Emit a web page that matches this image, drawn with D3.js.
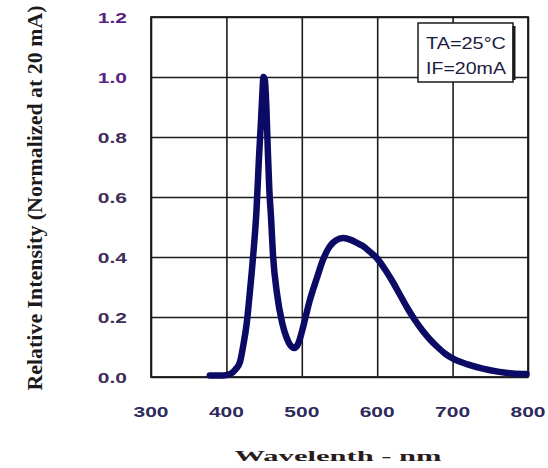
<!DOCTYPE html>
<html><head><meta charset="utf-8">
<script src="https://cdn.jsdelivr.net/npm/d3@7"></script>
<style>body{margin:0;background:#fff}svg{display:block}</style>
</head><body><svg id="c" width="548" height="468"></svg>
<script>
const wavelength = [378,395,405,412,418,422,427,431,435,440,443,446,448,449,451,453,455,457,459,462,467,474,480,485,490,495,500,505,510,520,528,537,545,555,565,573,580,590,600,610,620,630,640,650,660,670,680,690,700,720,740,760,780,798];
const intensity  = [0.005,0.005,0.01,0.025,0.05,0.10,0.18,0.28,0.39,0.56,0.72,0.86,0.96,1.0,0.99,0.90,0.75,0.62,0.54,0.40,0.28,0.18,0.13,0.105,0.097,0.11,0.15,0.20,0.25,0.33,0.39,0.435,0.455,0.463,0.457,0.447,0.438,0.418,0.395,0.36,0.32,0.275,0.23,0.19,0.155,0.125,0.10,0.078,0.062,0.042,0.028,0.018,0.012,0.01];
const xTickValues = [300,400,500,600,700,800];
const xTickLabels = ["300","400","500","600","700","800"];
const yTickValues = [0,0.2,0.4,0.6,0.8,1.0,1.2];
const yTickLabels = ["0.0","0.2","0.4","0.6","0.8","1.0","1.2"];
const legendLines = ["TA=25°C","IF=20mA"];
const xTitle = "Wavelenth - nm";
const yTitle = "Relative Intensity (Normalized at 20 mA)";

const svg = d3.select("#c");
svg.append("rect").attr("width",548).attr("height",468).attr("fill","#fff");
const L=151,R=528,T=17,B=377;
const x = d3.scaleLinear().domain([300,800]).range([L,R]);
const y = d3.scaleLinear().domain([0,1.2]).range([B,T]);
const gridColor = "#1c1c1c";

svg.append("g").attr("transform",`translate(0,${B})`)
  .call(d3.axisBottom(x).tickValues(xTickValues).tickSize(-(B-T)).tickFormat(""))
  .call(g=>{g.select(".domain").remove(); g.selectAll("line").attr("stroke",gridColor).attr("stroke-width",1.6);});
svg.append("g").attr("transform",`translate(${L},0)`)
  .call(d3.axisLeft(y).tickValues(yTickValues).tickSize(-(R-L)).tickFormat(""))
  .call(g=>{g.select(".domain").remove(); g.selectAll("line").attr("stroke",gridColor).attr("stroke-width",1.6);});
svg.append("rect").attr("x",L).attr("y",T).attr("width",R-L).attr("height",B-T)
  .attr("fill","none").attr("stroke",gridColor).attr("stroke-width",1.8);

// legend box
svg.append("rect").attr("x",418).attr("y",23).attr("width",95).attr("height",59)
  .attr("fill","#fff").attr("stroke","#1a1a1a").attr("stroke-width",1.5);
svg.append("line").attr("x1",514).attr("x2",514).attr("y1",26).attr("y2",80)
  .attr("stroke","#1a1a1a").attr("stroke-width",3);
svg.selectAll("text.leg").data(legendLines).join("text").attr("class","leg")
  .attr("x",426).attr("y",(d,i)=>49+i*25)
  .attr("textLength",80).attr("lengthAdjust","spacingAndGlyphs")
  .attr("font-family","'Liberation Sans', Arial, sans-serif").attr("font-size",16.5)
  .attr("fill","#1c1c40").text(d=>d);

// curve
const pts = wavelength.map((w,i)=>[w,intensity[i]]);
svg.append("path").datum(pts)
  .attr("d",d3.line().x(d=>x(d[0])).y(d=>y(d[1])).curve(d3.curveMonotoneX))
  .attr("fill","none").attr("stroke","#0b0b66").attr("stroke-width",6.5)
  .attr("stroke-linejoin","round").attr("stroke-linecap","round");

// x tick labels
svg.selectAll("text.xt").data(xTickValues).join("text").attr("class","xt")
  .attr("transform",d=>`translate(${x(d)},417) scale(1.4,1)`)
  .attr("text-anchor","middle")
  .attr("font-family","'Liberation Sans', Arial, sans-serif").attr("font-weight","bold").attr("font-size",15)
  .attr("fill","#2d2a5c").text((d,i)=>xTickLabels[i]);

// y tick labels
svg.selectAll("text.yt").data(yTickValues).join("text").attr("class","yt")
  .attr("transform",d=>`translate(127,${y(d)+5.5}) scale(1.4,1)`)
  .attr("text-anchor","end")
  .attr("font-family","'Liberation Sans', Arial, sans-serif").attr("font-weight","bold").attr("font-size",15)
  .attr("fill",d=>d>=1?"#5a2484":"#3f2c58").text((d,i)=>yTickLabels[i]);

// titles
svg.append("text").attr("x",338).attr("y",461).attr("text-anchor","middle")
  .attr("textLength",207).attr("lengthAdjust","spacingAndGlyphs")
  .attr("font-family","'Liberation Serif', 'Times New Roman', serif").attr("font-weight","bold").attr("font-size",15)
  .attr("fill","#2a1c1c").text(xTitle);
svg.append("text").attr("transform","translate(42,198) rotate(-90)").attr("text-anchor","middle")
  .attr("textLength",385).attr("lengthAdjust","spacingAndGlyphs")
  .attr("font-family","'Liberation Serif', 'Times New Roman', serif").attr("font-weight","bold").attr("font-size",20)
  .attr("fill","#1a1a1a").text(yTitle);
</script></body></html>
